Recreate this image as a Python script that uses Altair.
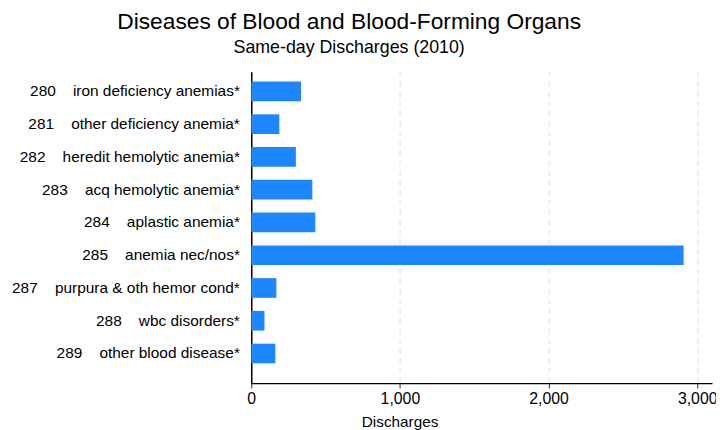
import altair as alt
import pandas as pd

codes = ["280", "281", "282", "283", "284", "285", "287", "288", "289"]
names = [
    "iron deficiency anemias*",
    "other deficiency anemia*",
    "heredit hemolytic anemia*",
    "acq hemolytic anemia*",
    "aplastic anemia*",
    "anemia nec/nos*",
    "purpura & oth hemor cond*",
    "wbc disorders*",
    "other blood disease*",
]
discharges = [335, 189, 300, 411, 431, 2909, 169, 89, 162]
x_ticks = [0, 1000, 2000, 3000]

gap = "\u00a0" * 4
labels = [c + gap + n for c, n in zip(codes, names)]
df = pd.DataFrame({"label": labels, "discharges": discharges})

FONT = "Liberation Sans"

chart = (
    alt.Chart(df)
    .mark_bar(color="#1e87ff")
    .encode(
        x=alt.X(
            "discharges:Q",
            title="Discharges",
            scale=alt.Scale(domain=[0, 3100], nice=False, zero=True),
            axis=alt.Axis(
                values=x_ticks,
                format=",d",
                grid=True,
                gridColor="#e8e8e8",
                gridDash=[6, 4],
                gridWidth=1.5,
                domainColor="#000000",
                domainWidth=1.2,
                tickColor="#333333",
                tickSize=5,
                labelPadding=3,
                labelFlush=False,
                labelOverlap=False,
                labelFontSize=16,
                labelColor="#000000",
                labelFont=FONT,
                titleFont=FONT,
                titleFontSize=15.5,
                titleFontWeight="normal",
                titleColor="#000000",
                titlePadding=8,
                titleX=150,
                titleAlign="center",
            ),
        ),
        y=alt.Y(
            "label:N",
            sort=labels,
            title=None,
            scale=alt.Scale(paddingInner=0.4, paddingOuter=0.453, align=0.333),
            axis=alt.Axis(
                ticks=False,
                tickSize=0,
                grid=False,
                domainColor="#000000",
                domainWidth=1.5,
                labelPadding=12,
                labelFontSize=15.6,
                labelColor="#000000",
                labelFont=FONT,
                labelLimit=400,
            ),
        ),
    )
    .properties(
        width=466,
        height=315,
        autosize=alt.AutoSizeParams(type="none"),
        padding={"left": 246, "top": 62, "right": 4, "bottom": 45},
        title=alt.TitleParams(
            text="Diseases of Blood and Blood-Forming Organs",
            subtitle="Same-day Discharges (2010)",
            anchor="middle",
            frame="group",
            dx=-134,
            offset=15,
            font=FONT,
            fontSize=23,
            fontWeight="normal",
            color="#000000",
            subtitleFont=FONT,
            subtitleFontSize=18,
            subtitleColor="#000000",
            subtitlePadding=5,
        ),
    )
    .configure_view(stroke=None)
)

chart.save("out.html", embed_options={"renderer": "svg", "actions": False})
